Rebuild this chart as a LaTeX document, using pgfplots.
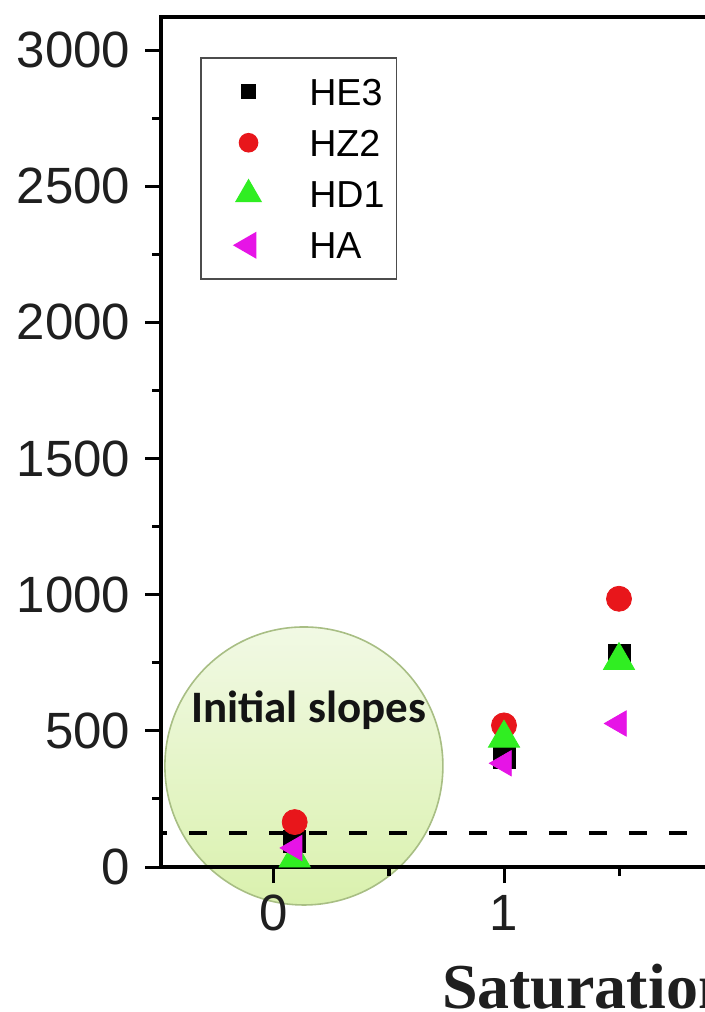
\documentclass[border=0pt]{standalone}
\usepackage{pgfplots}
\pgfplotsset{compat=1.18}
\usepackage{fontspec}
\setmainfont{Liberation Sans}
\newfontfamily\tnr{Liberation Serif}
\newfontfamily\carlito{Carlito}
\definecolor{mred}{HTML}{E8161B}
\definecolor{mgreen}{HTML}{30EE22}
\definecolor{mmag}{HTML}{E614E6}
\definecolor{ctop}{HTML}{F1F9E4}
\definecolor{cbot}{HTML}{DAF1AE}
\definecolor{cedge}{HTML}{A8BE84}
\begin{document}
\begin{tikzpicture}
\begin{axis}[
  x=115pt, y=0.13615pt,
  xmin=-0.49, xmax=2.5, ymin=0, ymax=3120,
  clip=false, axis on top,
  axis line style={line width=2pt},
  every tick/.style={black, line width=1.5pt},
  tick align=outside,
  major tick length=8pt, minor tick length=4.5pt,
  xtick pos=bottom, ytick pos=left,
  xtick={0,1,2}, minor xtick={0.5,1.5},
  ytick={0,500,...,3000}, minor ytick={250,750,...,2750},
  tick label style={font=\fontsize{25.5}{28}\selectfont, text=black!88},
  yticklabel style={xshift=-4pt},
  xticklabel style={yshift=-2.5pt},
  /pgf/number format/assume math mode=true,
  /pgf/number format/1000 sep={},
  xlabel={Saturation time},
  xlabel style={font=\tnr\bfseries\fontsize{32}{36}\selectfont, text=black!88,
    at={(axis description cs:0.4076,0)}, anchor=base west, inner sep=0pt, yshift=-70.5pt},
  legend style={at={(axis description cs:0.0562,0.9529)}, anchor=north west,
    draw=black!70, line width=0.8pt, font=\fontsize{18.8}{22}\selectfont,
    inner xsep=6pt, inner ysep=10pt, row sep=12pt,
    nodes={inner sep=0pt, text height=13.5pt, text depth=0pt},
    /tikz/every odd column/.append style={column sep=21.5pt}},
  legend cell align=left,
  legend image code/.code={\draw[#1] plot coordinates {(17.5pt,0pt)}; \path (0pt,0pt) (26pt,0pt);},
]
\coordinate (LL) at (rel axis cs:0,0);
\shadedraw[top color=ctop, bottom color=cbot, draw=cedge, line width=0.8pt] (axis cs:0.13,371) ellipse [x radius=69.5pt, y radius=69.5pt];
\node[font=\carlito\bfseries\fontsize{22.5}{26}\selectfont, anchor=base, inner sep=0pt, text=black!92] at (axis cs:0.15,529) {Initial slopes};
\addplot[black, line width=1.8pt, dash pattern=on 9pt off 11pt, dash phase=6pt, forget plot] coordinates {(-0.49,125) (2.5,125)};
\addplot[only marks, mark=square*, mark size=5.5pt, black, forget plot] coordinates {(0.09,95) (1,403) (1.5,777)};
\addplot[only marks, mark=*, mark size=6.25pt, mred, forget plot] coordinates {(0.09,165) (1,520) (1.5,985)};
\addplot[only marks, mark=triangle*, mark size=9pt, mgreen, forget plot] coordinates {(0.09,33) (1,473) (1.5,758)};
\addplot[only marks, mark=triangle*, mark size=7.3pt, mmag, mark options={rotate=90}, forget plot] coordinates {(0.09,70) (1,381) (1.5,527)};
\addlegendimage{only marks, mark=square*, mark size=3.3pt, black}
\addlegendentry{HE3}
\addlegendimage{only marks, mark=*, mark size=4.5pt, mred}
\addlegendentry{HZ2}
\addlegendimage{only marks, mark=triangle*, mark size=7pt, mgreen}
\addlegendentry{HD1}
\addlegendimage{only marks, mark=triangle*, mark size=7pt, mmag, mark options={rotate=90}}
\addlegendentry{HA}
\end{axis}
\pgfresetboundingbox
\path[use as bounding box] (LL) ++(-80.65pt,-72.5pt) rectangle ++(352.5pt,506pt);
\end{tikzpicture}
\end{document}
